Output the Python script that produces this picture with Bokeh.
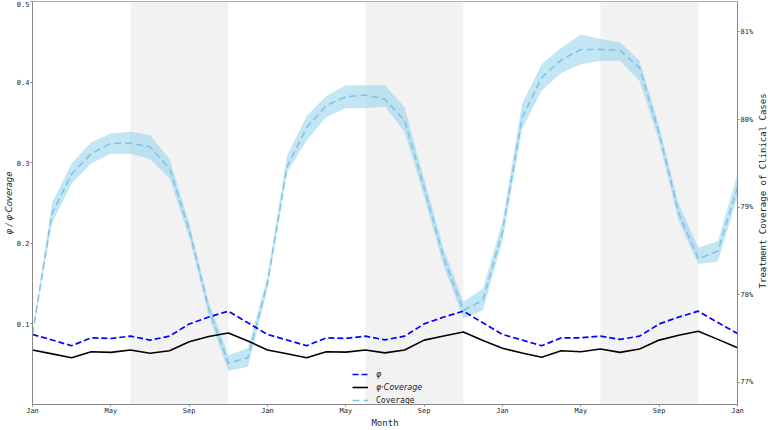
import math
from bokeh.plotting import figure
from bokeh.layouts import row
from bokeh.models import (Range1d, LinearAxis, FixedTicker, BoxAnnotation, Legend, LegendItem)
from bokeh.core.properties import value
from bokeh.embed import file_html
from bokeh.resources import INLINE

# ---------------- data ----------------
months = list(range(37))
month_ticks = [0, 4, 8, 12, 16, 20, 24, 28, 32, 36]
month_labels = ["Jan", "May", "Sep", "Jan", "May", "Sep", "Jan", "May", "Sep", "Jan"]

phi = [0.0869, 0.0800, 0.0729, 0.0827, 0.0819, 0.0848, 0.0799, 0.0848, 0.0999, 0.1085, 0.1158, 0.1013,
       0.0869, 0.0800, 0.0729, 0.0827, 0.0819, 0.0848, 0.0802, 0.0848, 0.1000, 0.1085, 0.1158, 0.1013,
       0.0869, 0.0800, 0.0729, 0.0827, 0.0827, 0.0848, 0.0807, 0.0848, 0.0999, 0.1085, 0.1158, 0.1016, 0.0880]

phi_cov = [0.0676, 0.0628, 0.0581, 0.0655, 0.0647, 0.0676, 0.0635, 0.0667, 0.0778, 0.0844, 0.0888, 0.0788,
           0.0676, 0.0630, 0.0581, 0.0655, 0.0650, 0.0676, 0.0640, 0.0676, 0.0799, 0.0850, 0.0900, 0.0795,
           0.0697, 0.0640, 0.0586, 0.0667, 0.0655, 0.0688, 0.0647, 0.0688, 0.0799, 0.0860, 0.0909, 0.0808, 0.0704]

coverage = [77.55, 78.93, 79.38, 79.61, 79.73, 79.73, 79.69, 79.44, 78.74, 77.84, 77.22, 77.28,
            78.14, 79.46, 79.91, 80.16, 80.26, 80.28, 80.23, 79.99, 79.22, 78.42, 77.82, 77.94,
            78.72, 80.02, 80.48, 80.68, 80.80, 80.80, 80.79, 80.59, 79.84, 78.93, 78.41, 78.50, 79.23]

coverage_lo = [77.54, 78.82, 79.27, 79.50, 79.61, 79.61, 79.55, 79.33, 78.66, 77.76, 77.13, 77.18,
               78.07, 79.40, 79.76, 80.03, 80.13, 80.13, 80.15, 79.86, 79.12, 78.33, 77.73, 77.82,
               78.62, 79.89, 80.33, 80.53, 80.63, 80.67, 80.67, 80.44, 79.75, 78.84, 78.35, 78.38, 79.12]

coverage_hi = [77.56, 79.05, 79.50, 79.74, 79.84, 79.86, 79.82, 79.55, 78.82, 77.92, 77.31, 77.39,
               78.21, 79.59, 80.04, 80.27, 80.39, 80.39, 80.39, 80.14, 79.32, 78.52, 77.92, 78.07,
               78.84, 80.18, 80.63, 80.82, 80.97, 80.92, 80.88, 80.67, 79.93, 79.03, 78.54, 78.61, 79.38]

shade_start = [5, 17, 29]
shade_end = [10, 22, 34]

left_ticks = [0.1, 0.2, 0.3, 0.4, 0.5]
right_ticks = [77, 78, 79, 80, 81]
right_title = "Treatment Coverage of Clinical Cases"

# ---------------- figure ----------------
MONO = "DejaVu Sans Mono"
SANS = "DejaVu Sans"
H = 430

p = figure(width=756, height=H, output_backend="svg", toolbar_location=None,
           x_range=Range1d(0, 36), y_range=Range1d(0, 0.5),
           min_border_left=0, min_border_right=0, min_border_top=1, min_border_bottom=0)
p.extra_y_ranges = {"cov": Range1d(76.748, 81.347)}

p.xgrid.visible = False
p.ygrid.visible = False
p.outline_line_color = "#b0b0b0"
p.background_fill_color = "white"

for s, e in zip(shade_start, shade_end):
    p.add_layout(BoxAnnotation(left=s, right=e, fill_color="lightgray", fill_alpha=0.3,
                               line_alpha=0, level="underlay"))

band = p.varea(x=months, y1=coverage_lo, y2=coverage_hi, y_range_name="cov",
               fill_color="#87CEEB", fill_alpha=0.5)
r_cov = p.line(months, coverage, y_range_name="cov", line_color="#80C4EA",
               line_width=1.6, line_dash="7 4")
r_phi = p.line(months, phi, line_color="blue", line_width=1.7, line_dash="6 3")
r_phic = p.line(months, phi_cov, line_color="black", line_width=1.6)


def style_axis(ax):
    ax.axis_line_color = "#888888"
    ax.major_tick_line_color = "#888888"
    ax.minor_tick_line_color = None
    ax.major_tick_out = 2
    ax.major_tick_in = 0
    ax.major_label_standoff = 1
    ax.major_label_text_font = MONO
    ax.major_label_text_font_size = "7px"
    ax.major_label_text_color = "#222222"
    ax.axis_label_text_font = MONO
    ax.axis_label_text_font_size = "9px"
    ax.axis_label_text_font_style = "normal"
    ax.axis_label_text_color = "#222222"
    ax.axis_label_standoff = 1


# x axis
xa = p.xaxis[0]
xa.ticker = FixedTicker(ticks=month_ticks)
xa.major_label_overrides = {t: l for t, l in zip(month_ticks, month_labels)}
xa.axis_label = "Month"
style_axis(xa)
xa.axis_label_standoff = 0
xa.major_label_standoff = 0

# left axis
ya = p.yaxis[0]
ya.ticker = FixedTicker(ticks=left_ticks)
ya.major_label_overrides = {t: f"{t:.1f}" for t in left_ticks}
ya.axis_label = "φ / φ·Coverage"
style_axis(ya)
ya.axis_label_standoff = 0
ya.axis_label_text_font = SANS
ya.axis_label_text_font_style = "italic"
ya.axis_label_text_font_size = "8.5px"

# right axis (title drawn in a narrow strip so it reads bottom-to-top)
ra = LinearAxis(y_range_name="cov")
ra.ticker = FixedTicker(ticks=right_ticks)
ra.major_label_overrides = {t: f"{t}%" for t in right_ticks}
style_axis(ra)
p.add_layout(ra, "right")

# legends
leg_a = Legend(items=[LegendItem(label="φ", renderers=[r_phi]),
                      LegendItem(label="φ·Coverage", renderers=[r_phic])],
               location=(320, 11))
leg_b = Legend(items=[LegendItem(label="Coverage", renderers=[r_cov])],
               location=(320, -2))
for lg in (leg_a, leg_b):
    lg.background_fill_alpha = 0
    lg.border_line_alpha = 0
    lg.padding = 0
    lg.margin = 0
    lg.spacing = 1
    lg.glyph_width = 16
    lg.glyph_height = 12
    lg.label_height = 12
    lg.label_standoff = 8
    lg.label_text_font_size = "8px"
    lg.label_text_color = "#222222"
leg_a.label_text_font = SANS
leg_a.label_text_font_style = "italic"
leg_b.label_text_font = MONO
p.add_layout(leg_a, "center")
p.add_layout(leg_b, "center")

# narrow strip holding the right-hand axis title
strip = figure(width=12, height=H, output_backend="svg", toolbar_location=None,
               x_range=Range1d(0, 1), y_range=Range1d(0, 1),
               x_axis_location=None, y_axis_location=None,
               min_border_left=0, min_border_right=0, min_border_top=1, min_border_bottom=26)
strip.xgrid.visible = False
strip.ygrid.visible = False
strip.outline_line_color = None
strip.text(x=[0.5], y=[0.53], text=[right_title], angle=math.pi / 2,
           text_align="center", text_baseline="middle",
           text_font=value(MONO), text_font_size="9px", text_color="#222222")

layout = row(p, strip)
open("out.html", "w").write(file_html(layout, INLINE))
